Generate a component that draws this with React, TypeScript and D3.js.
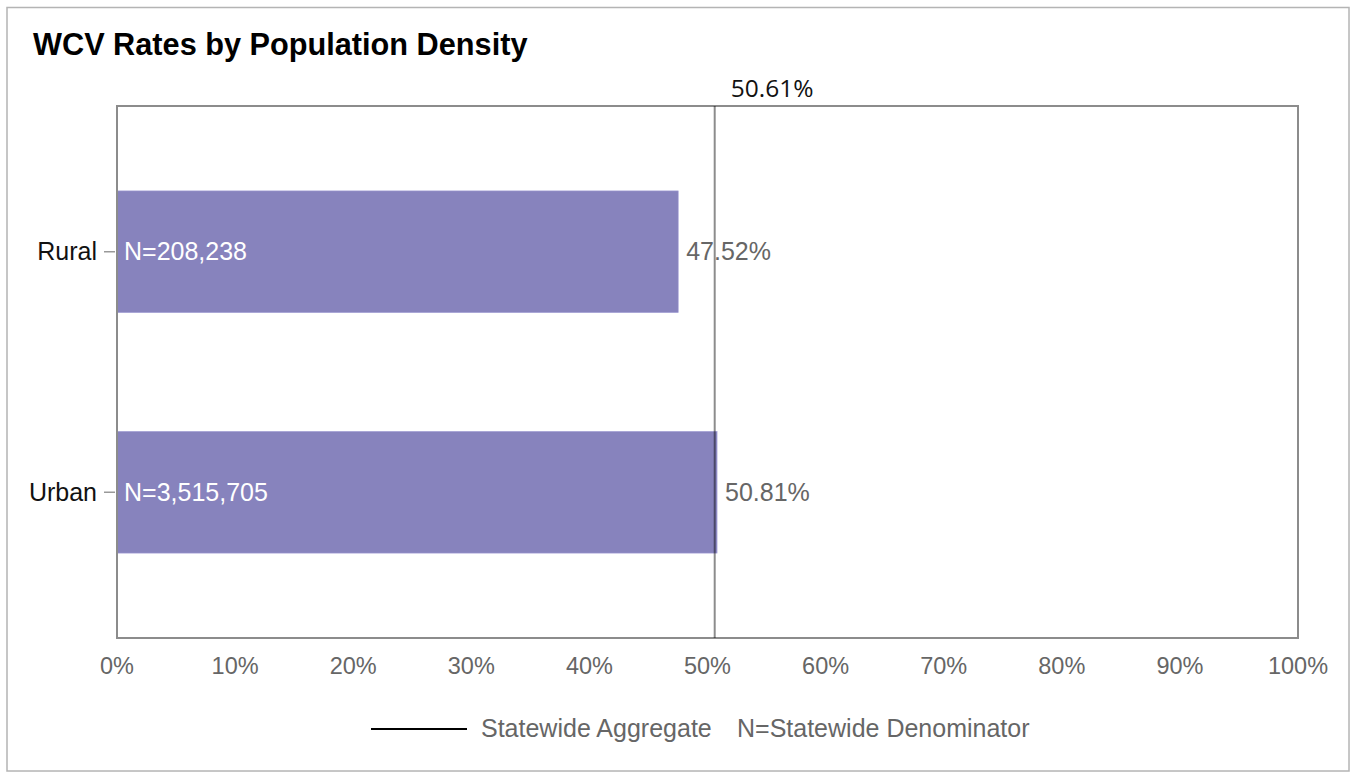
import React from "react";
import * as d3 from "d3";

const categories = ["Rural", "Urban"];
const rates = [47.52, 50.81];
const denominators = ["N=208,238", "N=3,515,705"];
const statewideRate = 50.61;
const xTicks = [0, 10, 20, 30, 40, 50, 60, 70, 80, 90, 100];
const titleText = "WCV Rates by Population Density";
const legendItems = ["Statewide Aggregate", "N=Statewide Denominator"];

const W = 1352;
const H = 773;
const plot = { left: 117, right: 1298, top: 106, bottom: 638 };
const FONT = "'Liberation Sans', Arial, sans-serif";
const LBL = 25;

export default function App() {
  const x = d3.scaleLinear().domain([0, 100]).range([plot.left, plot.right]);
  const y = d3
    .scaleBand<string>()
    .domain(categories)
    .range([plot.top, plot.bottom])
    .paddingInner(0.494)
    .paddingOuter(0.353);
  const bw = y.bandwidth();
  const refX = x(statewideRate);

  return (
    <svg
      width={W}
      height={H}
      style={{ position: "absolute", left: 0, top: 0, background: "#fff" }}
    >
      <rect x={0} y={0} width={W} height={H} fill="#fff" />
      <rect
        x={7}
        y={7.5}
        width={1342}
        height={763.5}
        fill="none"
        stroke="#b4b4b4"
        strokeWidth={1.5}
      />
      <text
        x={33}
        y={55}
        fontFamily={FONT}
        fontWeight="bold"
        fontSize={30.7}
        fill="#000"
      >
        {titleText}
      </text>

      {categories.map((c, i) => (
        <g key={c}>
          <rect
            x={x(0)}
            y={y(c)!}
            width={x(rates[i]) - x(0)}
            height={bw}
            fill="#8783bd"
            stroke="#a29ed6"
            strokeWidth={0.6}
          />
          <text
            x={x(0) + 7}
            y={y(c)! + bw / 2}
            dy="0.35em"
            fontFamily={FONT}
            fontSize={LBL}
            fill="#fff"
          >
            {denominators[i]}
          </text>
          <text
            x={x(rates[i]) + 8}
            y={y(c)! + bw / 2}
            dy="0.35em"
            fontFamily={FONT}
            fontSize={LBL}
            fill="#666"
          >
            {rates[i].toFixed(2) + "%"}
          </text>
          <line
            x1={plot.left - 13}
            x2={plot.left - 2}
            y1={y(c)! + bw / 2}
            y2={y(c)! + bw / 2}
            stroke="#999"
            strokeWidth={1.5}
          />
          <text
            x={plot.left - 20}
            y={y(c)! + bw / 2}
            dy="0.35em"
            textAnchor="end"
            fontFamily={FONT}
            fontSize={LBL}
            fill="#111"
          >
            {c}
          </text>
        </g>
      ))}

      <rect
        x={plot.left}
        y={plot.top}
        width={plot.right - plot.left}
        height={plot.bottom - plot.top}
        fill="none"
        stroke="#8c8c8c"
        strokeWidth={2}
      />
      <line
        x1={refX}
        x2={refX}
        y1={plot.top}
        y2={plot.bottom}
        stroke="#000"
        strokeOpacity={0.45}
        strokeWidth={2}
      />
      <text
        x={refX + 16}
        y={97}
        fontFamily="'Open Sans', 'Noto Sans', sans-serif"
        fontSize={24.5}
        fill="#111"
      >
        {statewideRate.toFixed(2) + "%"}
      </text>

      {xTicks.map((t) => (
        <text
          key={t}
          x={x(t)}
          y={674}
          textAnchor="middle"
          fontFamily={FONT}
          fontSize={23.5}
          fill="#666"
        >
          {t + "%"}
        </text>
      ))}

      <line x1={371} x2={467} y1={729} y2={729} stroke="#000" strokeWidth={2} />
      <text x={481} y={737} fontFamily={FONT} fontSize={LBL} fill="#666">
        {legendItems[0]}
      </text>
      <text x={737} y={737} fontFamily={FONT} fontSize={LBL} fill="#666">
        {legendItems[1]}
      </text>
    </svg>
  );
}
